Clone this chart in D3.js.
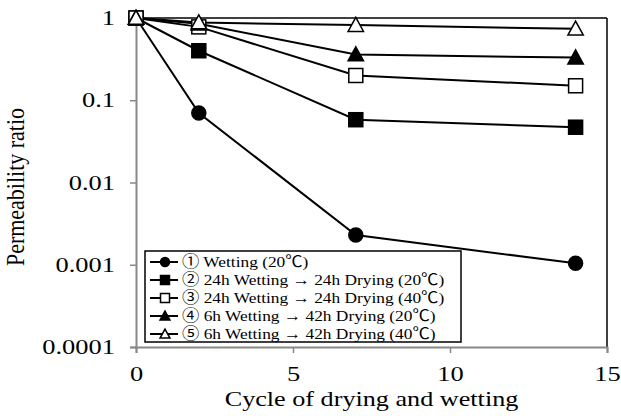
<!DOCTYPE html>
<html>
<head>
  <meta charset="utf-8">
  <title>Permeability ratio</title>
  <script src="https://d3js.org/d3.v7.min.js"></script>
  <style>
    body {
      margin: 0;
      padding: 0;
      background: #fff;
    }
    svg text {
      font-family: "Liberation Serif", "Times New Roman", "Noto Sans CJK JP", serif;
    }
  </style>
</head>
<body>
  <div id="chart"></div>
  <script>
    // data
    var cycles = [0, 2, 7, 14]
    var seriesNames = [
      "\u2460 Wetting (20\u2103)",
      "\u2461 24h Wetting \u2192 24h Drying (20\u2103)",
      "\u2462 24h Wetting \u2192 24h Drying (40\u2103)",
      "\u2463 6h Wetting \u2192 42h Drying (20\u2103)",
      "\u2464 6h Wetting \u2192 42h Drying (40\u2103)"
    ]
    var wetting20 = [1, 0.07, 0.0023, 0.00104]
    var wd24h20 = [1, 0.40, 0.058, 0.047]
    var wd24h40 = [1, 0.78, 0.20, 0.15]
    var wd6h20 = [1, 0.85, 0.36, 0.33]
    var wd6h40 = [1, 0.88, 0.82, 0.74]
    var markerKinds = ["circle", "square", "square", "triangle", "triangle"]
    var markerFilled = [true, true, false, true, false]
    var xTicks = [0, 5, 10, 15]
    var yTicks = [1, 0.1, 0.01, 0.001, 0.0001]
    var yTickLabels = ["1", "0.1", "0.01", "0.001", "0.0001"]

    var allSeries = [wetting20, wd24h20, wd24h40, wd6h20, wd6h40]

    var width = 621, height = 416
    var margin = { top: 18, right: 14, bottom: 69, left: 136 }
    var w = width - margin.left - margin.right
    var h = height - margin.top - margin.bottom
    var stretch = 1.26  // the picture's text is wider than it is tall

    var svg = d3.select("#chart").append("svg")
      .attr("width", width)
      .attr("height", height)

    var g = svg.append("g")
      .attr("transform", "translate(" + margin.left + "," + margin.top + ")")

    var x = d3.scaleLinear().domain([0, 15]).range([0, w])
    var y = d3.scaleLog().domain([0.0001, 1]).range([h, 0])

    // plot area border (top and right are black)
    g.append("line").attr("x1", 0).attr("x2", w).attr("y1", 0).attr("y2", 0)
      .attr("stroke", "#000").attr("stroke-width", 1.5)
    g.append("line").attr("x1", w).attr("x2", w).attr("y1", 0).attr("y2", h)
      .attr("stroke", "#000").attr("stroke-width", 1.5)

    // axes
    var xAxis = g.append("g")
      .attr("transform", "translate(0," + h + ")")
      .call(d3.axisBottom(x).tickValues(xTicks).tickSize(6).tickPadding(13).tickFormat(d3.format("d")))
    var yAxis = g.append("g")
      .call(d3.axisLeft(y).tickValues(yTicks).tickSize(6).tickPadding(15)
        .tickFormat(function (d, i) { return yTickLabels[i] }))

    ;[xAxis, yAxis].forEach(function (a) {
      a.attr("font-family", null)
      a.select(".domain").attr("stroke", "#888").attr("stroke-width", 2)
      a.selectAll(".tick line").attr("stroke", "#888").attr("stroke-width", 1.5)
      a.selectAll("text").attr("fill", "#000").style("font-size", "21px")
        .attr("transform", "scale(" + stretch + ",1)")
    })
    yAxis.selectAll("text").attr("x", -21 / stretch)

    // lines
    var line = d3.line()
      .x(function (d, i) { return x(cycles[i]) })
      .y(function (d) { return y(d) })

    function drawMarker(sel, kind, filled, size) {
      var fill = filled ? "#000" : "#fff"
      if (kind == "circle")
        sel.append("circle").attr("r", size * 0.5)
          .attr("fill", fill).attr("stroke", "#000").attr("stroke-width", 1.5)
      else if (kind == "square")
        sel.append("rect").attr("x", -size / 2).attr("y", -size / 2)
          .attr("width", size).attr("height", size)
          .attr("fill", fill).attr("stroke", "#000").attr("stroke-width", 1.5)
      else
        sel.append("path")
          .attr("d", "M0," + (-size * 0.55) + "L" + (size * 0.55) + "," + (size * 0.45) + "L" + (-size * 0.55) + "," + (size * 0.45) + "Z")
          .attr("fill", fill).attr("stroke", "#000").attr("stroke-width", 1.5)
    }

    allSeries.forEach(function (s, k) {
      g.append("path")
        .datum(s)
        .attr("fill", "none")
        .attr("stroke", "#000")
        .attr("stroke-width", 2)
        .attr("d", line)
    })
    allSeries.forEach(function (s, k) {
      s.forEach(function (v, i) {
        var m = g.append("g")
          .attr("transform", "translate(" + x(cycles[i]) + "," + y(v) + ")")
        drawMarker(m, markerKinds[k], markerFilled[k], 14)
      })
    })

    // legend
    var legend = svg.append("g").attr("transform", "translate(145,251)")
    legend.append("rect").attr("width", 316).attr("height", 91)
      .attr("fill", "#fff").attr("stroke", "#000").attr("stroke-width", 1.5)
    seriesNames.forEach(function (name, k) {
      var row = legend.append("g").attr("transform", "translate(0," + (11 + k * 18) + ")")
      row.append("line").attr("x1", 5).attr("x2", 33).attr("y1", 0).attr("y2", 0)
        .attr("stroke", "#000").attr("stroke-width", 2)
      drawMarker(row.append("g").attr("transform", "translate(20,0)"), markerKinds[k], markerFilled[k], 9)
      row.append("text")
        .attr("transform", "translate(37,5) scale(1.12,1)")
        .style("font-size", "15.5px")
        .text(name)
    })

    // axis titles
    svg.append("text")
      .attr("transform", "translate(24,187) rotate(-90) scale(1,1.15)")
      .attr("text-anchor", "middle")
      .style("font-size", "22px")
      .text("Permeability ratio")
    svg.append("text")
      .attr("transform", "translate(" + (margin.left + w / 2) + ",406) scale(1.19,1)")
      .attr("text-anchor", "middle")
      .style("font-size", "22px")
      .text("Cycle of drying and wetting")
  </script>
</body>
</html>
